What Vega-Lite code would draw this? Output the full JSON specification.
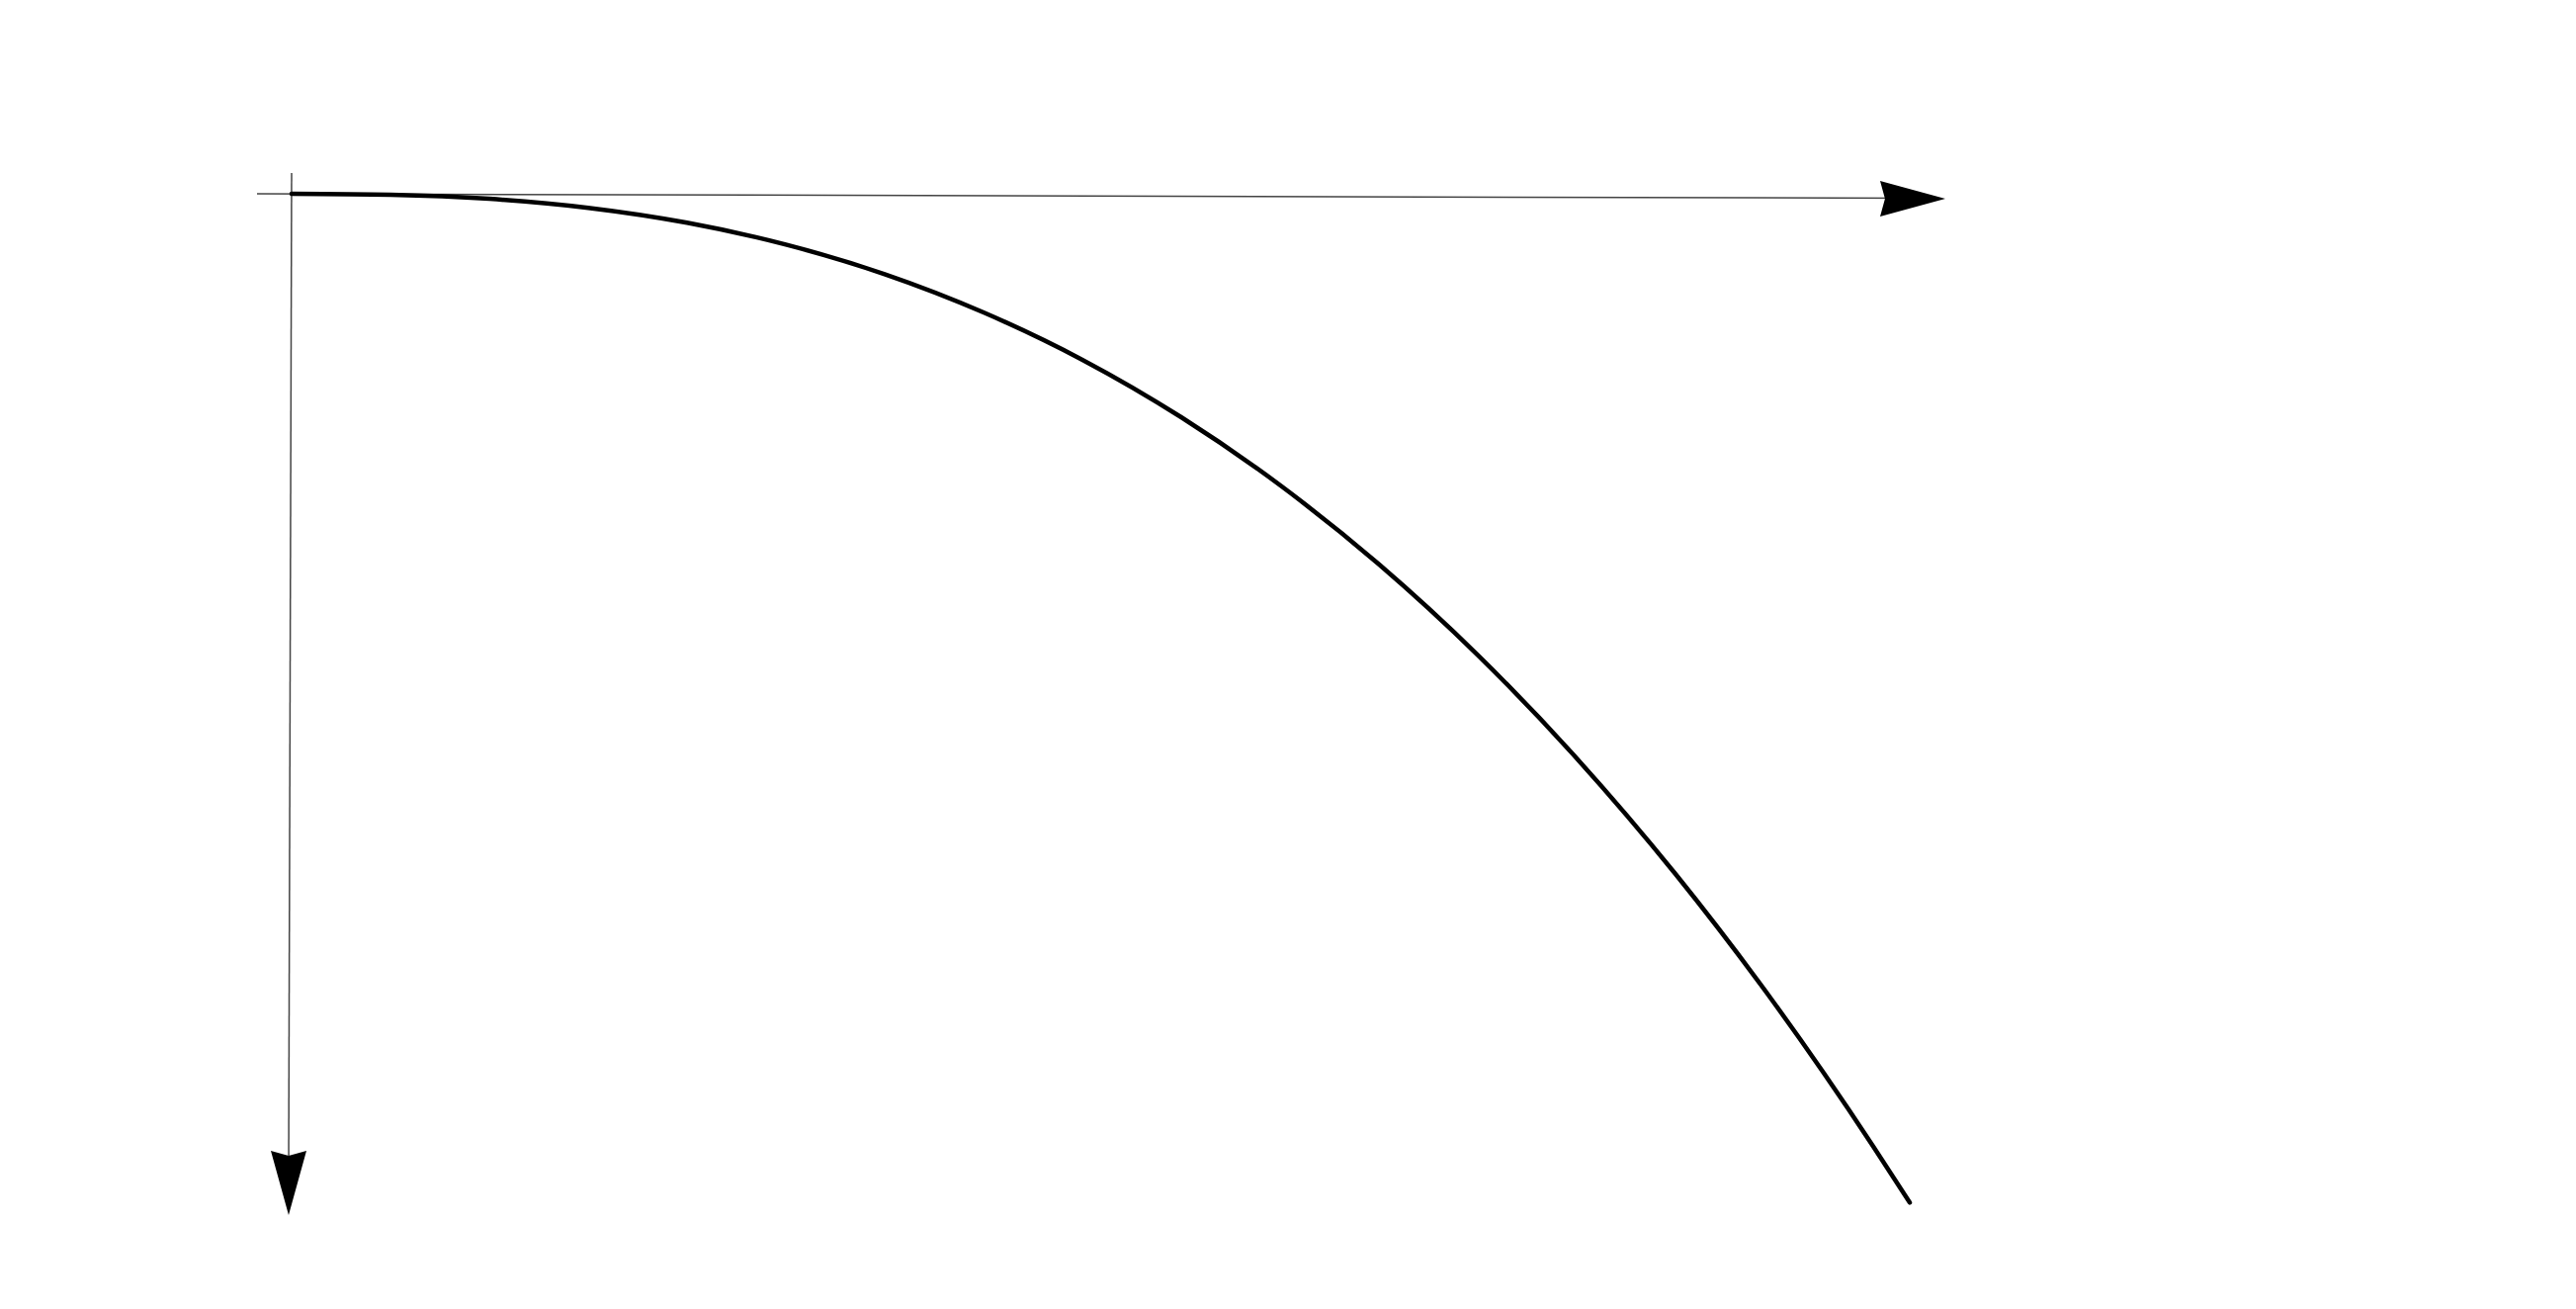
{
  "$schema": "https://vega.github.io/schema/vega-lite/v6.json",
  "width": 2606,
  "height": 1324,
  "autosize": {"type": "fit", "contains": "padding"},
  "padding": 0,
  "background": "white",
  "config": {"view": {"stroke": null}},
  "datasets": {
    "curve": [
      {"x": 0, "y": -0.01},
      {"x": 1, "y": 0.0},
      {"x": 2, "y": 0.041},
      {"x": 3, "y": 0.132},
      {"x": 4, "y": 0.283},
      {"x": 5, "y": 0.504},
      {"x": 6, "y": 0.803},
      {"x": 7, "y": 1.19},
      {"x": 8, "y": 1.669},
      {"x": 9, "y": 2.25},
      {"x": 10, "y": 2.938},
      {"x": 11, "y": 3.738},
      {"x": 12, "y": 4.656},
      {"x": 13, "y": 5.699},
      {"x": 14, "y": 6.87},
      {"x": 15, "y": 8.177},
      {"x": 16, "y": 9.624},
      {"x": 16.37, "y": 10.194}
    ],
    "axes": [
      {"name": "horizontal", "x": -0.35, "y": -0.01, "x2": 16.5, "y2": 0.035},
      {"name": "vertical", "x": 0.0, "y": -0.22, "x2": -0.03, "y2": 9.9}
    ],
    "arrows": [
      {"name": "horizontal", "x": 16.4, "y": 0.04},
      {"name": "vertical", "x": -0.03, "y": 9.995}
    ]
  },
  "layer": [
    {
      "data": {"name": "axes"},
      "mark": {"type": "rule", "color": "#444444", "strokeWidth": 1.5},
      "encoding": {
        "x": {"field": "x", "type": "quantitative", "axis": null, "scale": {"domain": [-2.95, 23.11], "nice": false, "zero": false}},
        "y": {"field": "y", "type": "quantitative", "axis": null, "scale": {"domain": [-1.97, 11.27], "nice": false, "zero": false, "reverse": true}},
        "x2": {"field": "x2"},
        "y2": {"field": "y2"}
      }
    },
    {
      "data": {"name": "curve"},
      "mark": {"type": "line", "color": "#000000", "strokeWidth": 4.5, "interpolate": "monotone", "strokeCap": "round"},
      "encoding": {
        "x": {"field": "x", "type": "quantitative", "axis": null, "scale": {"domain": [-2.95, 23.11], "nice": false, "zero": false}},
        "y": {"field": "y", "type": "quantitative", "axis": null, "scale": {"domain": [-1.97, 11.27], "nice": false, "zero": false, "reverse": true}}
      }
    },
    {
      "data": {"name": "arrows"},
      "transform": [{"filter": "datum.name === 'horizontal'"}],
      "mark": {"type": "point", "filled": true, "color": "#000000", "opacity": 1, "strokeWidth": 0, "size": 4356, "shape": "M1,0L-1,-0.545L-0.85,0L-1,0.545Z"},
      "encoding": {
        "x": {"field": "x", "type": "quantitative", "axis": null, "scale": {"domain": [-2.95, 23.11], "nice": false, "zero": false}},
        "y": {"field": "y", "type": "quantitative", "axis": null, "scale": {"domain": [-1.97, 11.27], "nice": false, "zero": false, "reverse": true}}
      }
    },
    {
      "data": {"name": "arrows"},
      "transform": [{"filter": "datum.name === 'vertical'"}],
      "mark": {"type": "point", "filled": true, "color": "#000000", "opacity": 1, "strokeWidth": 0, "size": 4225, "shape": "M0,1L-0.554,-1L0,-0.85L0.554,-1Z"},
      "encoding": {
        "x": {"field": "x", "type": "quantitative", "axis": null, "scale": {"domain": [-2.95, 23.11], "nice": false, "zero": false}},
        "y": {"field": "y", "type": "quantitative", "axis": null, "scale": {"domain": [-1.97, 11.27], "nice": false, "zero": false, "reverse": true}}
      }
    }
  ]
}
